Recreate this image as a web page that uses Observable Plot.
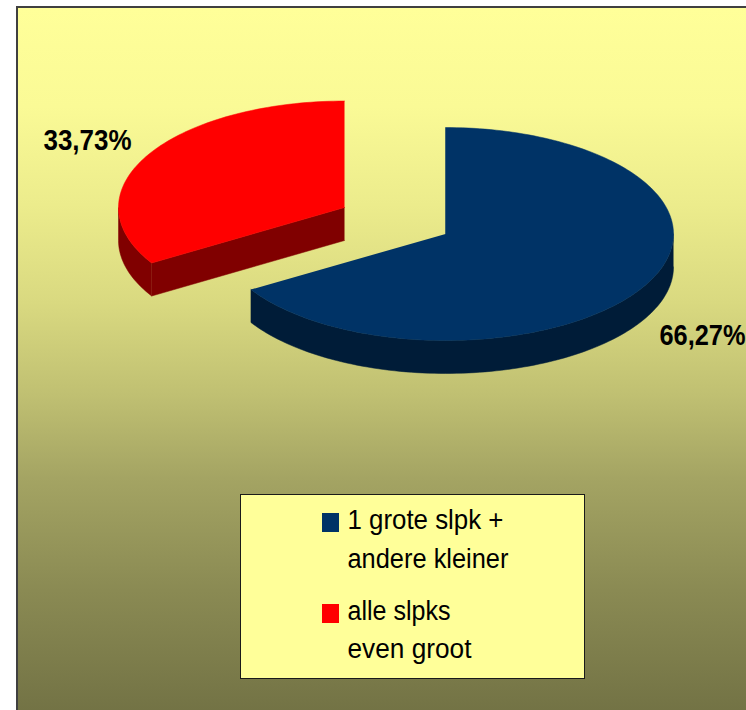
<!DOCTYPE html>
<html>
<head>
<meta charset="utf-8">
<script src="https://cdn.jsdelivr.net/npm/d3@7"></script>
<script src="https://cdn.jsdelivr.net/npm/@observablehq/plot@0.6"></script>
<style>html,body{margin:0;padding:0;background:#fff;overflow:hidden}svg{display:block}</style>
</head>
<body>
<div id="chart"></div>
<script>
// Data
const sliceKeys = ["blue", "red"];
const sliceValues = [66.27, 33.73];
const sliceLabels = ["66,27%", "33,73%"];
const topColors = ["#003366", "#ff0000"];
const sideColors = ["#001c38", "#800000"];
const legendLines = [["1 grote slpk +", "andere kleiner"], ["alle slpks", "even groot"]];

// Layout (reference-pixel space)
const W = 746, H = 710;
const centers = [[445, 233.5], [344, 207]];
const radiiX = [228, 226], ry = 106.5, depth = 33;
const labelPos = [[659, 344], [43, 149]];
const labelWidths = [86, 88];
const framePos = {x1: 17, y1: 7, x2: 790, y2: 760};
const fillPos = {x1: 18, y1: 8, x2: 746, y2: 710};
const legendBox = {x1: 240.5, y1: 494.5, x2: 584.5, y2: 678.5};
const swatchPos = [{x1: 322, x2: 339, y1: 513, y2: 532}, {x1: 322, x2: 339, y1: 604, y2: 623}];
const legendText = [[347, 528], [347, 567], [347, 619], [347, 657]];
const legendWidths = [156, 161, 103, 124];
const gradStops = [[0, "#ffff99"], [0.14, "#fafa96"], [0.28, "#ecec8c"], [0.42, "#d9d980"], [0.55, "#c0c072"], [0.67, "#a4a463"], [0.83, "#8a8a53"], [1, "#737345"]];

const pie = d3.pie().sort(null).value(d => d).startAngle(0)(sliceValues);
const pt = (c, rx, a, dz = 0) => ({x: c[0] + rx * Math.sin(a), y: c[1] - ry * Math.cos(a) + dz});
const arc = (c, rx, a0, a1, dz = 0) => {
  const n = Math.max(2, Math.ceil(Math.abs(a1 - a0) * 40));
  return d3.range(n + 1).map(i => pt(c, rx, a0 + (a1 - a0) * i / n, dz));
};

const tops = [], sides = [];
pie.forEach((p, i) => {
  const c = centers[i], rx = radiiX[i], a0 = p.startAngle, a1 = p.endAngle, k = sliceKeys[i];
  tops.push(...[{x: c[0], y: c[1]}, ...arc(c, rx, a0, a1)].map(d => ({...d, k, fill: topColors[i]})));
  // outer wall: the front half of the rim
  const v0 = Math.max(a0, Math.PI / 2), v1 = Math.min(a1, 3 * Math.PI / 2);
  if (v1 > v0) {
    sides.push(...[...arc(c, rx, v0, v1), ...arc(c, rx, v1, v0, depth)].map(d => ({...d, k: k + "-rim", fill: sideColors[i]})));
  }
  // cut wall: visible when the radius at the start of the slice faces the viewer
  if (a0 > Math.PI && a0 < 2 * Math.PI) {
    const e = pt(c, rx, a0);
    sides.push(...[{x: c[0], y: c[1]}, e, {x: e.x, y: e.y + depth}, {x: c[0], y: c[1] + depth}].map(d => ({...d, k: k + "-cut", fill: sideColors[i]})));
  }
});

const labels = sliceLabels.map((t, i) => ({t, x: labelPos[i][0], y: labelPos[i][1], w: labelWidths[i]}));
const legendRows = legendLines.flat().map((t, i) => ({t, x: legendText[i][0], y: legendText[i][1], w: legendWidths[i]}));
const swatches = swatchPos.map((s, i) => ({...s, fill: topColors[i]}));
const font = "Liberation Sans";

// Narrow a text mark's strings to measured widths: the reference's glyphs are taller than they are wide.
const ctx = document.createElement("canvas").getContext("2d");
const fitted = (rows, cssFont) => (index, scales, values, dimensions, context, next) => {
  const g = next(index, scales, values, dimensions, context);
  ctx.font = cssFont;
  d3.select(g).selectAll("text").each(function (_, j) {
    const row = rows[index[j]];
    const sx = row.w / ctx.measureText(row.t).width;
    this.setAttribute("transform", `${this.getAttribute("transform") || ""} scale(${sx},1)`);
  });
  return g;
};

const plot = Plot.plot({
  width: W, height: H, margin: 0,
  x: {domain: [0, W], range: [0, W], axis: null},
  y: {domain: [0, H], range: [0, H], axis: null},
  style: {background: "#fff", fontFamily: font},
  marks: [
    () => {
      const defs = d3.create("svg:defs");
      const g = defs.append("linearGradient").attr("id", "bg").attr("x1", 0).attr("x2", 0).attr("y1", 0).attr("y2", 1);
      gradStops.forEach(([o, col]) => g.append("stop").attr("offset", o).attr("stop-color", col));
      return defs.node();
    },
    Plot.rect([framePos], {x1: "x1", x2: "x2", y1: "y1", y2: "y2", fill: "#fff", stroke: "#404040", strokeWidth: 2}),
    Plot.rect([fillPos], {x1: "x1", x2: "x2", y1: "y1", y2: "y2", fill: "url(#bg)"}),
    Plot.line(sides, {x: "x", y: "y", z: "k", fill: "fill", stroke: "fill", strokeWidth: 0.5, curve: "linear"}),
    Plot.line(tops, {x: "x", y: "y", z: "k", fill: "fill", stroke: "fill", strokeWidth: 0.5, curve: "linear"}),
    Plot.text(labels, {x: "x", y: "y", text: "t", textAnchor: "start", lineAnchor: "bottom", fontSize: 29, fontWeight: "bold", fontFamily: font, fill: "#000", render: fitted(labels, `bold 29px "${font}"`)}),
    Plot.rect([legendBox], {x1: "x1", x2: "x2", y1: "y1", y2: "y2", fill: "#ffff99", stroke: "#1a1a1a", strokeWidth: 1}),
    Plot.rect(swatches, {x1: "x1", x2: "x2", y1: "y1", y2: "y2", fill: "fill"}),
    Plot.text(legendRows, {x: "x", y: "y", text: "t", textAnchor: "start", lineAnchor: "bottom", fontSize: 27, fontFamily: font, fill: "#000", render: fitted(legendRows, `27px "${font}"`)})
  ]
});
document.getElementById("chart").append(plot);
</script>
</body>
</html>
